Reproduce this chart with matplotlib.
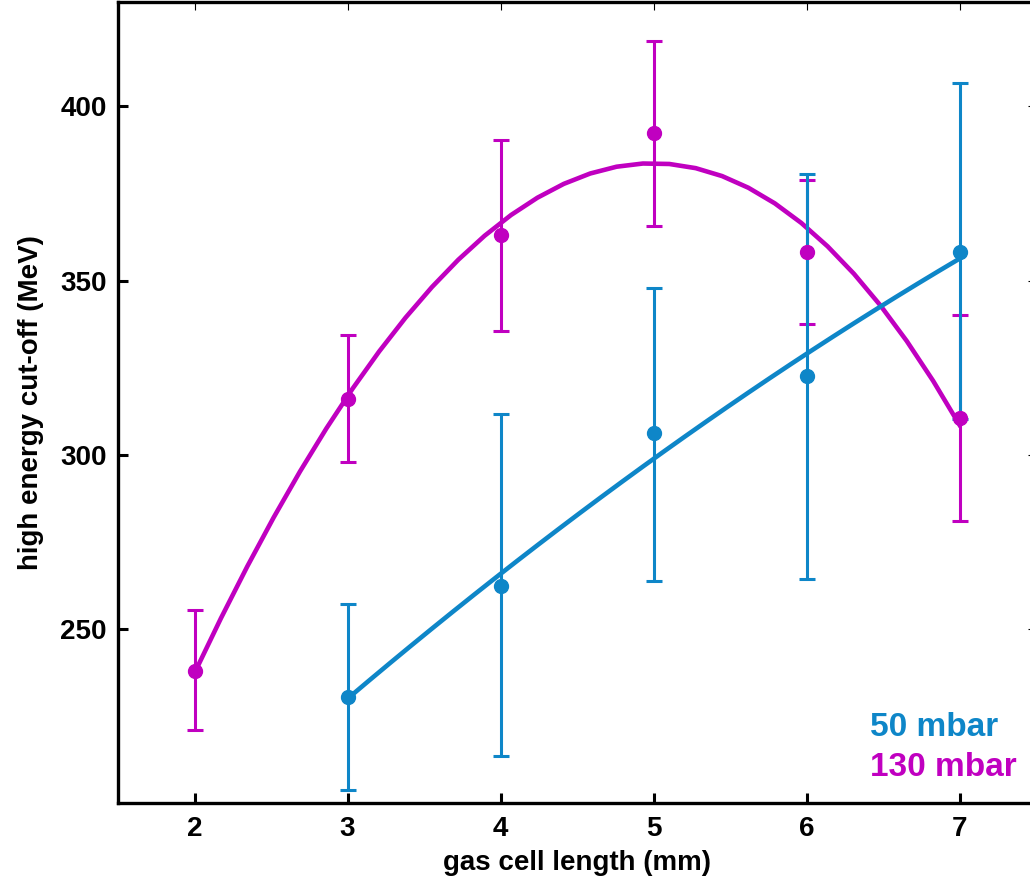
import numpy as np
import matplotlib.pyplot as plt

plt.rcParams['font.family'] = ['Liberation Sans', 'DejaVu Sans']
plt.rcParams['font.weight'] = 'bold'

# 130 mbar measurements
x_130 = [2, 3, 4, 5, 6, 7]
y_130 = [238.0, 316.0, 363.0, 392.5, 358.3, 310.5]
up_130 = [255.5, 334.5, 390.3, 418.8, 379.0, 340.0]
lo_130 = [221.0, 298.0, 335.5, 365.8, 337.4, 281.0]

# 50 mbar measurements
x_50 = [3, 4, 5, 6, 7]
y_50 = [230.4, 262.4, 306.2, 322.5, 358.3]
up_50 = [257.0, 311.6, 348.0, 380.5, 406.7]
lo_50 = [203.8, 213.5, 263.8, 264.4, 310.2]

blue = '#0e86c8'
magenta = '#c000c0'

fig = plt.figure(figsize=(10.3, 8.85), dpi=100)
ax = fig.add_axes([118 / 1030, 82 / 885, (1036 - 118) / 1030, (803 - 2) / 885])


def draw_series(x, y, up, lo, color, deg):
    x = np.array(x, float)
    y = np.array(y, float)
    err = [y - np.array(lo), np.array(up) - y]
    # fitted trend through the measured points
    coef = np.polyfit(x, y, deg)
    xs = np.linspace(x.min(), x.max(), 30)
    ax.plot(xs, np.polyval(coef, xs), color=color, lw=3.3, zorder=3)
    ax.errorbar(x, y, yerr=err, fmt='o', color=color, ms=10, elinewidth=2.2,
                capsize=5.5, capthick=2.2, zorder=4)


draw_series(x_130, y_130, up_130, lo_130, magenta, 3)
draw_series(x_50, y_50, up_50, lo_50, blue, 2)

ax.set_xlim(1.5, 7.5)
ax.set_ylim(200, 430)
ax.set_xticks([2, 3, 4, 5, 6, 7])
ax.set_yticks([250, 300, 350, 400])

for sp in ax.spines.values():
    sp.set_linewidth(2.4)
ax.tick_params(direction='in', length=7, width=2.2, labelsize=20,
               top=True, right=True)
ax.tick_params(axis='x', pad=9)
ax.tick_params(axis='y', pad=8)
for t in ax.xaxis.get_major_ticks() + ax.yaxis.get_major_ticks():
    t.tick2line.set_color('#555555')
    t.tick2line.set_markeredgewidth(0.8)
    t.tick2line.set_markersize(6)

ax.set_xlabel('gas cell length (mm)', fontsize=20, fontweight='bold', labelpad=6)
ax.set_ylabel('high energy cut-off (MeV)', fontsize=20, fontweight='bold', labelpad=12)

ax.text(870, 885 - 736, '50 mbar', transform=None, color=blue, fontsize=24,
        fontweight='bold')
ax.text(870, 885 - 776, '130 mbar', transform=None, color=magenta, fontsize=24,
        fontweight='bold')

fig.savefig('out.png', dpi=100)
